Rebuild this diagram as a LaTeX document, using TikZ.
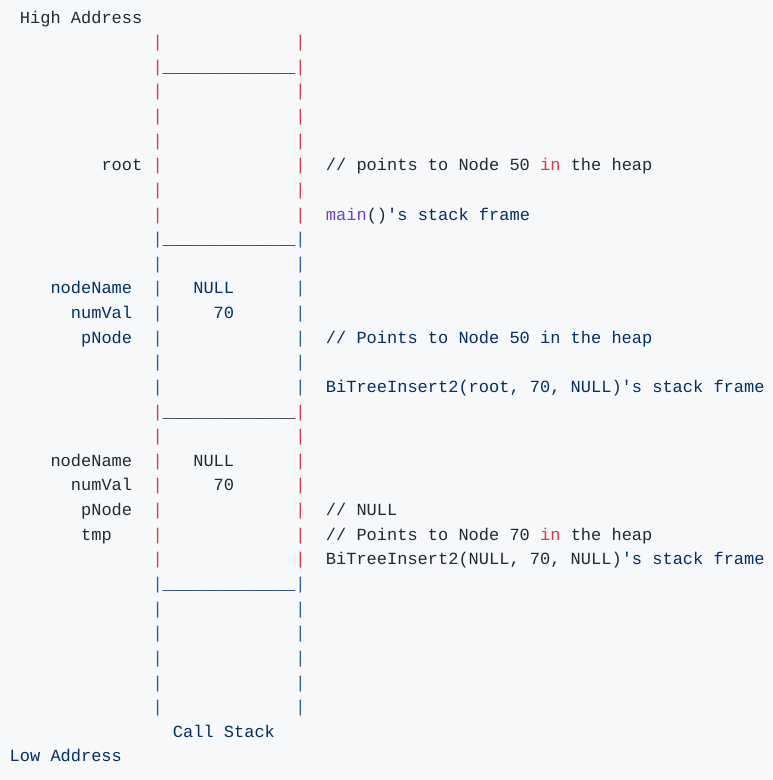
\documentclass[tikz,border=0pt]{standalone}
\usepackage{fontspec}
\setmonofont{Liberation Mono}
\definecolor{bg}{HTML}{F6F8FA}
\definecolor{txt}{HTML}{24292E}
\definecolor{kw}{HTML}{D73A49}
\definecolor{str}{HTML}{032F62}
\definecolor{fn}{HTML}{6F42C1}
\definecolor{bpipe}{HTML}{2A5E9E}
\newlength\cw \setlength\cw{10.2015pt}
\newcommand\gap[1]{\hspace*{#1\cw}}
\newcommand\rp{\textcolor{kw}{|}}
\newcommand\bp{\textcolor{bpipe}{|}}
\newcommand\ulbar{\_\_\_\_\_\_\_\_\_\_\_\_\_}
\begin{document}
\begin{tikzpicture}[x=1pt,y=1pt,
  ln/.style={anchor=base west, inner sep=0pt, font=\fontsize{17}{20}\selectfont\ttfamily, text=txt},
  sln/.style={ln, text=str}]
\fill[bg] (0,0) rectangle (772,-780);
\useasboundingbox (0,0) rectangle (772,-780);
\node[ln] (l0) at (9.5,-23.00) {\gap{1}High Address};
\node[ln] (l1) at (9.5,-47.63) {\gap{14}\rp\gap{13}\rp};
\node[ln] (l2) at (9.5,-72.26) {\gap{14}\rp\ulbar\rp};
\node[ln] (l3) at (9.5,-96.89) {\gap{14}\rp\gap{13}\rp};
\node[ln] (l4) at (9.5,-121.52) {\gap{14}\rp\gap{13}\rp};
\node[ln] (l5) at (9.5,-146.15) {\gap{14}\rp\gap{13}\rp};
\node[ln] (l6) at (9.5,-170.78) {\gap{9}root\gap{1}\rp\gap{13}\rp\gap{2}// points to Node 50 \textcolor{kw}{in} the heap};
\node[ln] (l7) at (9.5,-195.41) {\gap{14}\rp\gap{13}\rp};
\node[ln] (l8) at (9.5,-220.04) {\gap{14}\rp\gap{13}\rp\gap{2}\textcolor{fn}{main}()\textcolor{str}{'s stack frame}};
\node[sln] (l9) at (9.5,-244.67) {\gap{14}\bp\ulbar\bp};
\node[sln] (l10) at (9.5,-269.30) {\gap{14}\bp\gap{13}\bp};
\node[sln] (l11) at (9.5,-293.93) {\gap{4}nodeName\gap{2}\bp\gap{3}NULL\gap{6}\bp};
\node[sln] (l12) at (9.5,-318.56) {\gap{6}numVal\gap{2}\bp\gap{5}70\gap{6}\bp};
\node[sln] (l13) at (9.5,-343.19) {\gap{7}pNode\gap{2}\bp\gap{13}\bp\gap{2}// Points to Node 50 in the heap};
\node[sln] (l14) at (9.5,-367.82) {\gap{14}\bp\gap{13}\bp};
\node[sln] (l15) at (9.5,-392.45) {\gap{14}\bp\gap{13}\bp\gap{2}BiTreeInsert2(root, 70, NULL)'s stack frame};
\node[ln] (l16) at (9.5,-417.08) {\gap{14}\rp\ulbar\rp};
\node[ln] (l17) at (9.5,-441.71) {\gap{14}\rp\gap{13}\rp};
\node[ln] (l18) at (9.5,-466.34) {\gap{4}nodeName\gap{2}\rp\gap{3}NULL\gap{6}\rp};
\node[ln] (l19) at (9.5,-490.97) {\gap{6}numVal\gap{2}\rp\gap{5}70\gap{6}\rp};
\node[ln] (l20) at (9.5,-515.60) {\gap{7}pNode\gap{2}\rp\gap{13}\rp\gap{2}// NULL};
\node[ln] (l21) at (9.5,-540.23) {\gap{7}tmp\gap{4}\rp\gap{13}\rp\gap{2}// Points to Node 70 \textcolor{kw}{in} the heap};
\node[ln] (l22) at (9.5,-564.86) {\gap{14}\rp\gap{13}\rp\gap{2}BiTreeInsert2(NULL, 70, NULL)\textcolor{str}{'s stack frame}};
\node[sln] (l23) at (9.5,-589.49) {\gap{14}\bp\ulbar\bp};
\node[sln] (l24) at (9.5,-614.12) {\gap{14}\bp\gap{13}\bp};
\node[sln] (l25) at (9.5,-638.75) {\gap{14}\bp\gap{13}\bp};
\node[sln] (l26) at (9.5,-663.38) {\gap{14}\bp\gap{13}\bp};
\node[sln] (l27) at (9.5,-688.01) {\gap{14}\bp\gap{13}\bp};
\node[sln] (l28) at (9.5,-712.64) {\gap{14}\bp\gap{13}\bp};
\node[sln] (l29) at (9.5,-737.27) {\gap{16}Call Stack};
\node[sln] (l30) at (9.5,-761.90) {Low Address};
\end{tikzpicture}
\end{document}
